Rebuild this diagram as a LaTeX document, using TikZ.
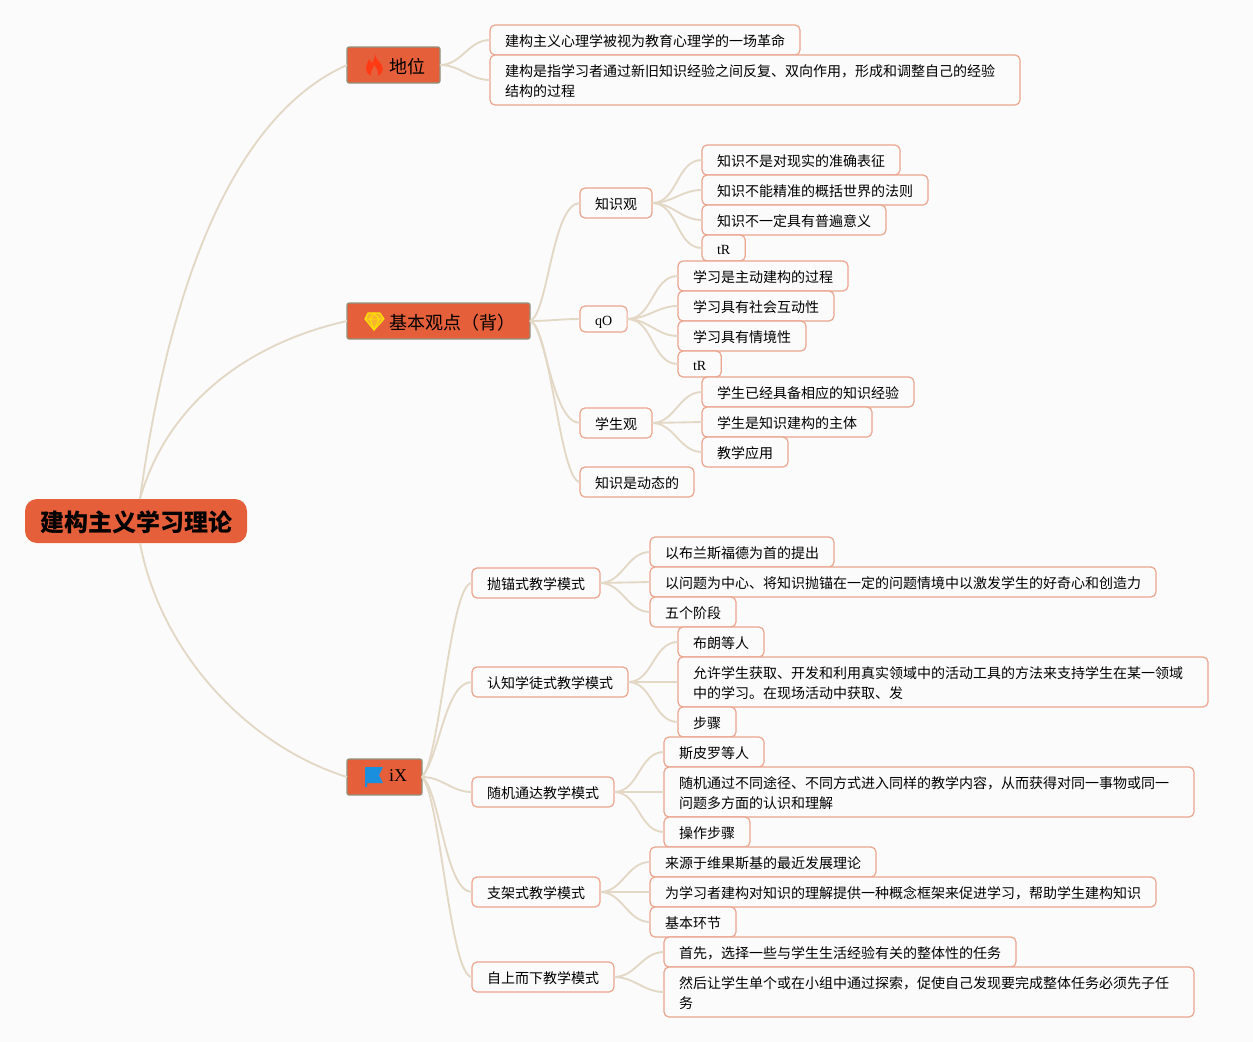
\documentclass[tikz,border=0pt]{standalone}
\usepackage{fontspec}
\usepackage{xcolor}
\setmainfont{Noto Sans CJK SC}
\newfontfamily\latinfont{Liberation Serif}
\definecolor{pagebg}{HTML}{FBFBFB}
\definecolor{topicfill}{HTML}{E5603A}
\definecolor{topicedge}{HTML}{8F9480}
\definecolor{leafedge}{HTML}{EBA48E}
\definecolor{linkcol}{HTML}{E3D8C5}
\definecolor{flamecol}{HTML}{FF3A14}
\definecolor{gemcol}{HTML}{F7B52C}
\definecolor{flagcol}{HTML}{1A8FDD}
\tikzset{
  leaf/.style={draw=leafedge, fill=pagebg, line width=0.9pt, rounded corners=3.75pt, anchor=west,
    inner xsep=11.25pt, inner ysep=0pt, outer sep=0pt, minimum height=22.5pt, align=left,
    text height=10.75pt, text depth=1.25pt, font=\fontsize{10.5}{15}\selectfont},
  leaftwo/.style={leaf, minimum height=37.5pt, text width=375pt, text depth=16.25pt},
  leafsmall/.style={leaf, minimum height=19.5pt},
  topic/.style={draw=topicedge, fill=topicfill, line width=0.9pt, rounded corners=1.5pt, anchor=west,
    inner xsep=11.25pt, inner ysep=0pt, outer sep=0pt, minimum height=27pt,
    text height=13.25pt, text depth=0pt,
    font=\fontsize{13.5}{16}\selectfont, execute at begin node={\hspace*{20.25pt}}},
  rootbox/.style={fill=topicfill, rounded corners=9pt, inner xsep=11.25pt, inner ysep=0pt, outer sep=0pt,
    minimum height=33pt, text height=17.4pt, text depth=2.2pt, font=\fontsize{18}{22}\selectfont\bfseries},
  link/.style={draw=linkcol, line width=1.4pt},
}
\begin{document}
\begin{tikzpicture}[x=0.75pt, y=-0.75pt]
  \fill[pagebg] (0,0) rectangle (1253,1042);
  % centre and main topics
  \node[rootbox] (root) at (136,521) {建构主义学习理论};
  \node[topic] (status) at (347,65) {地位};
  \node[topic] (views) at (347,321) {基本观点（背）};
  \node[topic, text height=6pt] (modes) at (347,777) {{\latinfont iX}};
  \coordinate (rootup) at (140,499);
  \coordinate (rootdown) at (140,543);
  % icons
  \fill[flamecol] (375,54) .. controls (375,60) and (383,63) .. (383,69) .. controls (383,72) and (381,74) .. (378,76)
    .. controls (379,72) and (377,68) .. (374,65) .. controls (373,69) and (370,71) .. (371,76)
    .. controls (368,74) and (366,72) .. (366,68) .. controls (366,65) and (368,62) .. (369,59)
    .. controls (370,61) and (371,62) .. (372,63) .. controls (374,60) and (375,58) .. (375,54) -- cycle;
  \draw[fill=gemcol, draw=yellow!85!orange, line width=0.9pt, line join=round]
    (368,313) -- (380,313) -- (384,319) -- (374,330) -- (365,319) -- cycle;
  \draw[yellow!85!orange, line width=0.7pt] (365,319) -- (384,319) (370,319) -- (374,330) -- (379,319) (370,319) -- (374,313) -- (379,319);
  \fill[flagcol] (365,767) -- (383,767) -- (379,775) -- (383,783) -- (367,783) -- (367,787) -- (365,787) -- cycle;
  % first branch
  \node[leaf] (s1) at (490,40) {建构主义心理学被视为教育心理学的一场革命};
  \node[leaftwo] (s2) at (490,80) {建构是指学习者通过新旧知识经验之间反复、双向作用，形成和调整自己的经验\\结构的过程};
  % second branch
  \node[leaf] (v1) at (580,203) {知识观};
  \node[leaf] (v1a) at (702,160) {知识不是对现实的准确表征};
  \node[leaf] (v1b) at (702,190) {知识不能精准的概括世界的法则};
  \node[leaf] (v1c) at (702,220) {知识不一定具有普遍意义};
  \node[leafsmall] (v1d) at (702,248) {{\latinfont tR}};
  \node[leafsmall] (v2) at (580,319) {{\latinfont qO}};
  \node[leaf] (v2a) at (678,276) {学习是主动建构的过程};
  \node[leaf] (v2b) at (678,306) {学习具有社会互动性};
  \node[leaf] (v2c) at (678,336) {学习具有情境性};
  \node[leafsmall] (v2d) at (678,364) {{\latinfont tR}};
  \node[leaf] (v3) at (580,423) {学生观};
  \node[leaf] (v3a) at (702,392) {学生已经具备相应的知识经验};
  \node[leaf] (v3b) at (702,422) {学生是知识建构的主体};
  \node[leaf] (v3c) at (702,452) {教学应用};
  \node[leaf] (v4) at (580,482) {知识是动态的};
  % third branch
  \node[leaf] (m1) at (472,583) {抛锚式教学模式};
  \node[leaf] (m1a) at (650,552) {以布兰斯福德为首的提出};
  \node[leaf] (m1b) at (650,582) {以问题为中心、将知识抛锚在一定的问题情境中以激发学生的好奇心和创造力};
  \node[leaf] (m1c) at (650,612) {五个阶段};
  \node[leaf] (m2) at (472,682) {认知学徒式教学模式};
  \node[leaf] (m2a) at (678,642) {布朗等人};
  \node[leaftwo] (m2b) at (678,682) {允许学生获取、开发和利用真实领域中的活动工具的方法来支持学生在某一领域\\中的学习。在现场活动中获取、发};
  \node[leaf] (m2c) at (678,722) {步骤};
  \node[leaf] (m3) at (472,792) {随机通达教学模式};
  \node[leaf] (m3a) at (664,752) {斯皮罗等人};
  \node[leaftwo] (m3b) at (664,792) {随机通过不同途径、不同方式进入同样的教学内容，从而获得对同一事物或同一\\问题多方面的认识和理解};
  \node[leaf] (m3c) at (664,832) {操作步骤};
  \node[leaf] (m4) at (472,892) {支架式教学模式};
  \node[leaf] (m4a) at (650,862) {来源于维果斯基的最近发展理论};
  \node[leaf] (m4b) at (650,892) {为学习者建构对知识的理解提供一种概念框架来促进学习，帮助学生建构知识};
  \node[leaf] (m4c) at (650,922) {基本环节};
  \node[leaf] (m5) at (472,977) {自上而下教学模式};
  \node[leaf] (m5a) at (664,952) {首先，选择一些与学生生活经验有关的整体性的任务};
  \node[leaftwo] (m5b) at (664,992) {然后让学生单个或在小组中通过探索，促使自己发现要完成整体任务必须先子任\\务};
  % connectors
  \draw[link] (rootup) .. controls (170,280) and (235,115) .. (status.west);
  \draw[link] (rootup) .. controls (165,410) and (240,345) .. (views.west);
  \draw[link] (rootdown) .. controls (160,650) and (245,745) .. (modes.west);
  \draw[link] (status.east) to[out=0, in=180] (s1.west);
  \draw[link] (status.east) to[out=0, in=180] (s2.west);
  \draw[link] (views.east) .. controls (548,315) and (552,203) .. (v1.west);
  \draw[link] (views.east) to[out=0, in=180] (v2.west);
  \draw[link] (views.east) .. controls (545,325) and (552,423) .. (v3.west);
  \draw[link] (views.east) .. controls (550,325) and (560,482) .. (v4.west);
  \draw[link] (v1.east) to[out=0, in=180] (v1a.west);
  \draw[link] (v1.east) to[out=0, in=180] (v1b.west);
  \draw[link] (v1.east) to[out=0, in=180] (v1c.west);
  \draw[link] (v1.east) to[out=0, in=180] (v1d.west);
  \draw[link] (v2.east) to[out=0, in=180] (v2a.west);
  \draw[link] (v2.east) to[out=0, in=180] (v2b.west);
  \draw[link] (v2.east) to[out=0, in=180] (v2c.west);
  \draw[link] (v2.east) to[out=0, in=180] (v2d.west);
  \draw[link] (v3.east) to[out=0, in=180] (v3a.west);
  \draw[link] (v3.east) -- (v3b.west);
  \draw[link] (v3.east) to[out=0, in=180] (v3c.west);
  \draw[link] (modes.east) .. controls (440,760) and (450,583) .. (m1.west);
  \draw[link] (modes.east) .. controls (440,755) and (445,682) .. (m2.west);
  \draw[link] (modes.east) to[out=0, in=180] (m3.west);
  \draw[link] (modes.east) .. controls (440,790) and (445,892) .. (m4.west);
  \draw[link] (modes.east) .. controls (440,795) and (450,977) .. (m5.west);
  \draw[link] (m1.east) to[out=0, in=180] (m1a.west);
  \draw[link] (m1.east) -- (m1b.west);
  \draw[link] (m1.east) to[out=0, in=180] (m1c.west);
  \draw[link] (m2.east) to[out=0, in=180] (m2a.west);
  \draw[link] (m2.east) -- (m2b.west);
  \draw[link] (m2.east) to[out=0, in=180] (m2c.west);
  \draw[link] (m3.east) to[out=0, in=180] (m3a.west);
  \draw[link] (m3.east) -- (m3b.west);
  \draw[link] (m3.east) to[out=0, in=180] (m3c.west);
  \draw[link] (m4.east) to[out=0, in=180] (m4a.west);
  \draw[link] (m4.east) -- (m4b.west);
  \draw[link] (m4.east) to[out=0, in=180] (m4c.west);
  \draw[link] (m5.east) to[out=0, in=180] (m5a.west);
  \draw[link] (m5.east) to[out=0, in=180] (m5b.west);
\end{tikzpicture}
\end{document}
